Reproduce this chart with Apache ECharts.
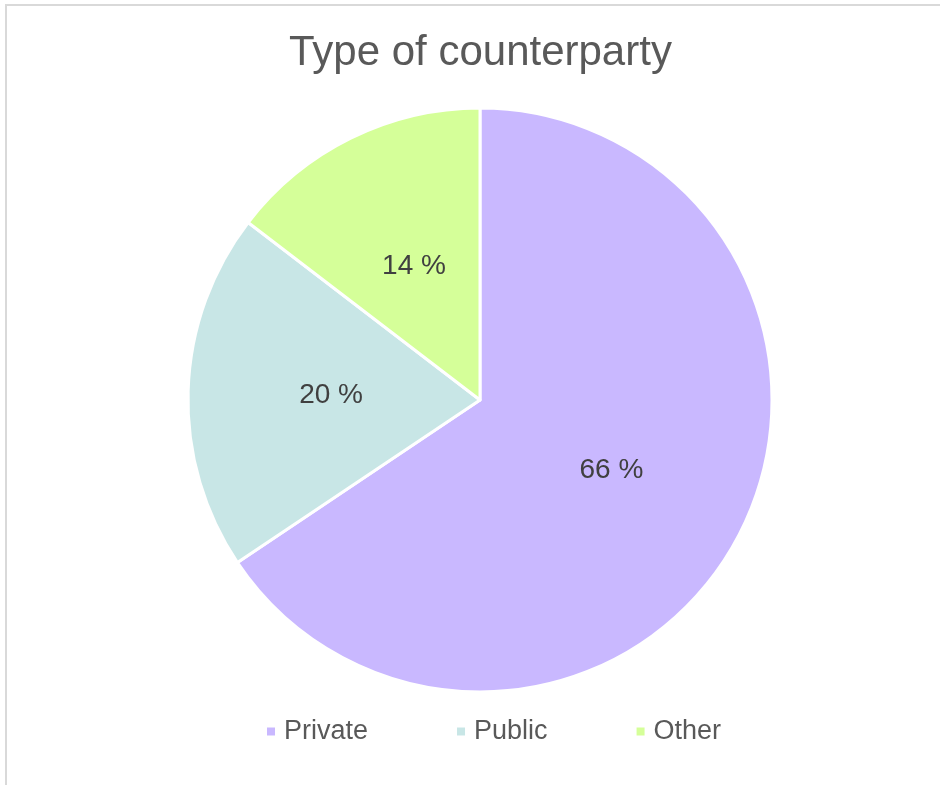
<!DOCTYPE html>
<html>
<head>
<meta charset="utf-8">
<script src="https://cdn.jsdelivr.net/npm/echarts@6/dist/echarts.min.js"></script>
<style>html,body{margin:0;padding:0;background:#fff;}#chart{width:940px;height:785px;}</style>
</head>
<body>
<div id="chart"></div>
<script>
const categories = ['Private', 'Public', 'Other'];
const values = [65.6, 19.8, 14.6];
const labelTexts = ['66 %', '20 %', '14 %'];
const colors = ['#C9B8FF', '#C8E6E6', '#D5FF99'];

const chart = echarts.init(document.getElementById('chart'), null, {renderer: 'canvas'});
const font = '"Liberation Sans", Arial, sans-serif';
chart.setOption({
  backgroundColor: '#ffffff',
  animation: false,
  graphic: [{
    type: 'rect', shape: {x: 6, y: 5, width: 1200, height: 1200},
    style: {fill: 'none', stroke: '#d9d9d9', lineWidth: 2}, silent: true, z: -1
  }],
  title: {
    text: 'Type of counterparty', left: 284, top: 27,
    textStyle: {fontFamily: font, fontSize: 42, fontWeight: 'normal', color: '#595959'}
  },
  legend: {
    data: categories, left: 260, top: 713, itemWidth: 10, itemHeight: 10, itemGap: 87,
    icon: 'rect',
    textStyle: {fontFamily: font, fontSize: 27, color: '#595959', padding: [0, 0, 0, 3]}
  },
  series: [{
    type: 'pie', center: [480, 400], radius: 292, startAngle: 90, clockwise: true,
    itemStyle: {borderColor: '#ffffff', borderWidth: 3},
    label: {show: true, position: 'inside', formatter: p => labelTexts[p.dataIndex], fontFamily: font, fontSize: 28, color: '#404040'},
    labelLine: {show: false},
    emphasis: {disabled: true},
    data: categories.map((c, i) => ({name: c, value: values[i], itemStyle: {color: colors[i]}}))
  }]
});
</script>
</body>
</html>
